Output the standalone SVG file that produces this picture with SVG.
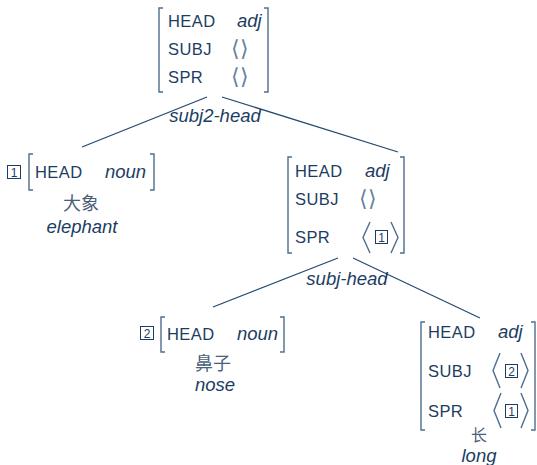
<svg xmlns="http://www.w3.org/2000/svg" width="537" height="465" viewBox="0 0 537 465">
<style>
.f{font-family:"Liberation Sans",Arial,sans-serif;font-size:16.5px;fill:#1c3d63;letter-spacing:0.4px}
.i{font-family:"Liberation Sans",Arial,sans-serif;font-size:18.5px;font-style:italic;fill:#1c3d63}
.c{font-family:"Noto Sans CJK SC",sans-serif;font-size:18px;fill:#4a6078;text-anchor:middle}
.m{text-anchor:middle}
.a{font-family:"DejaVu Sans",sans-serif;font-size:22px;font-weight:200;fill:#6582a0;text-anchor:middle}
.n{font-family:"Liberation Sans",Arial,sans-serif;font-size:12px;fill:#1c3d63;text-anchor:middle}
.br{fill:none;stroke:#4d6d8e;stroke-width:1.4}
.bx{fill:none;stroke:#1c3d63;stroke-width:1}
.ln{stroke:#234a6e;stroke-width:1.2;fill:none}
</style>
<g id="connectors">
<line class="ln" x1="207" y1="97" x2="82" y2="147"/>
<line class="ln" x1="222" y1="97" x2="398" y2="152"/>
<line class="ln" x1="338" y1="258" x2="213" y2="307"/>
<line class="ln" x1="353" y1="258" x2="480" y2="318"/>
<text class="i m" x="215" y="122">subj2-head</text>
<text class="i m" x="347" y="285">subj-head</text>
</g>
<g id="root">
<path class="br" d="M163,8 H159 V92 H163"/>
<path class="br" d="M264,8 H268 V92 H264"/>
<text class="f" x="168" y="27">HEAD</text>
<text class="i" x="237" y="27">adj</text>
<text class="f" x="168" y="55">SUBJ</text>
<text class="a" x="240" y="56">⟨⟩</text>
<text class="f" x="168" y="83">SPR</text>
<text class="a" x="240" y="84">⟨⟩</text>
</g>
<g id="elephant">
<rect class="bx" x="7.5" y="165.5" width="13" height="13"/>
<text class="n" x="14" y="176.5">1</text>
<path class="br" d="M33,154 H29 V190 H33"/>
<path class="br" d="M150,154 H154 V190 H150"/>
<text class="f" x="35" y="178">HEAD</text>
<text class="i" x="105" y="178">noun</text>
<text class="c" x="81" y="210">大象</text>
<text class="i m" x="82" y="233">elephant</text>
</g>
<g id="vp">
<path class="br" d="M292,157 H288 V253 H292"/>
<path class="br" d="M400,157 H404 V253 H400"/>
<text class="f" x="295" y="177">HEAD</text>
<text class="i" x="365" y="177">adj</text>
<text class="f" x="295" y="205">SUBJ</text>
<text class="a" x="368" y="206">⟨⟩</text>
<text class="f" x="295" y="243">SPR</text>
<polyline class="br" points="370,222 363,237.5 370,253"/>
<rect class="bx" x="375.5" y="230.5" width="12" height="13"/>
<text class="n" x="381.5" y="241.5">1</text>
<polyline class="br" points="391,222 398,237.5 391,253"/>
</g>
<g id="nose">
<rect class="bx" x="140.5" y="326.5" width="13" height="13"/>
<text class="n" x="147" y="337.5">2</text>
<path class="br" d="M165,317 H161 V352 H165"/>
<path class="br" d="M280,317 H284 V352 H280"/>
<text class="f" x="167" y="340">HEAD</text>
<text class="i" x="237" y="340">noun</text>
<text class="c" x="213" y="370">鼻子</text>
<text class="i m" x="215" y="391">nose</text>
</g>
<g id="long">
<path class="br" d="M425,322 H421 V430 H425"/>
<path class="br" d="M531,322 H535 V430 H531"/>
<text class="f" x="428" y="338">HEAD</text>
<text class="i" x="498" y="338">adj</text>
<text class="f" x="428" y="377">SUBJ</text>
<polyline class="br" points="500,353 493,370.5 500,388"/>
<rect class="bx" x="505.5" y="364.5" width="12" height="13"/>
<text class="n" x="511.5" y="375.5">2</text>
<polyline class="br" points="521,353 528,370.5 521,388"/>
<text class="f" x="428" y="417">SPR</text>
<polyline class="br" points="501,393 494,410.5 501,428"/>
<rect class="bx" x="505.5" y="404.5" width="12" height="13"/>
<text class="n" x="511.5" y="415.5">1</text>
<polyline class="br" points="521,393 528,410.5 521,428"/>
<text class="c" x="479" y="441" style="font-size:16px">长</text>
<text class="i m" x="479" y="462">long</text>
</g>
</svg>
